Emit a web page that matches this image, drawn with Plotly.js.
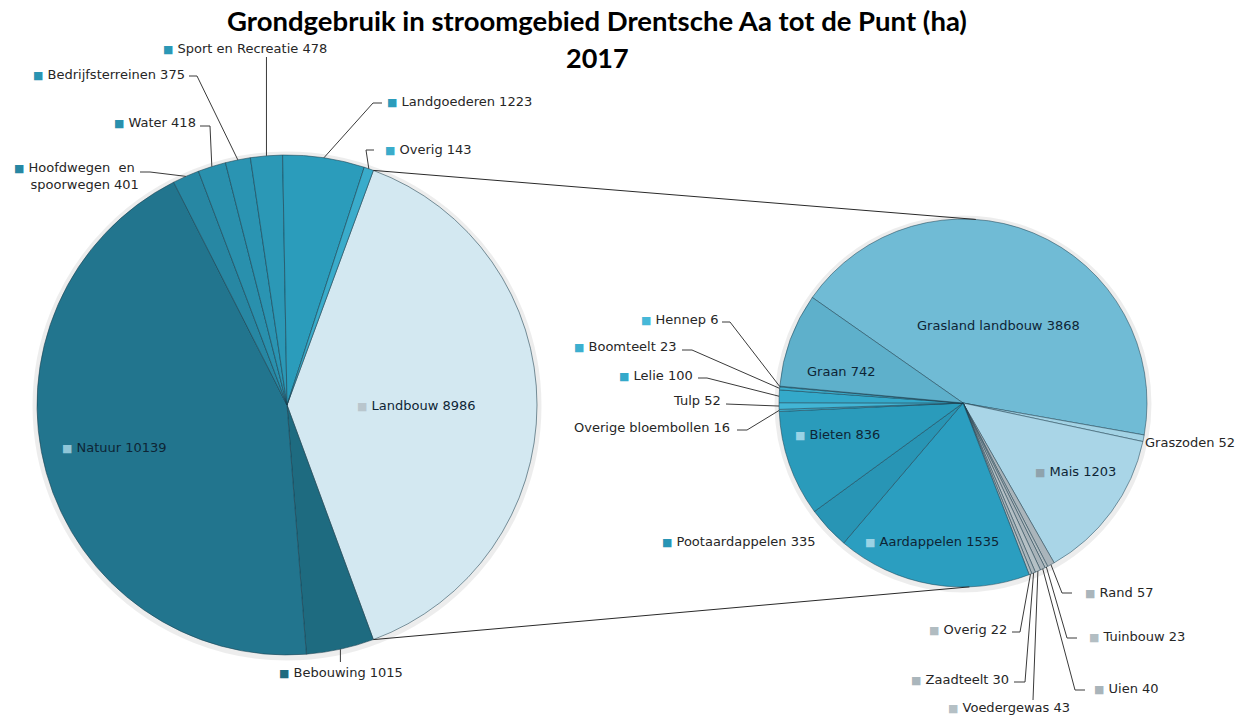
<!DOCTYPE html>
<html><head><meta charset="utf-8">
<script src="https://cdn.plot.ly/plotly-3.0.1.min.js"></script>
<style>html,body{margin:0;padding:0;background:#fff}</style>
</head><body><div id="chart" style="width:1252px;height:715px"></div>
<script>
// ---------- data ----------
const chartTitle = 'Grondgebruik in stroomgebied Drentsche Aa tot de Punt (ha)';
const chartYear = '2017';
const mainCategories = ['Landbouw','Bebouwing','Natuur','Hoofdwegen en spoorwegen','Water','Bedrijfsterreinen','Sport en Recreatie','Landgoederen','Overig'];
const mainValues = [8986,1015,10139,401,418,375,478,1223,143];
const landbouwCategories = ['Grasland landbouw','Graszoden','Mais','Rand','Tuinbouw','Uien','Voedergewas','Zaadteelt','Overig','Aardappelen','Pootaardappelen','Bieten','Overige bloembollen','Tulp','Lelie','Boomteelt','Hennep','Graan'];
const landbouwValues = [3868,52,1203,57,23,40,43,30,22,1535,335,836,16,52,100,23,6,742];

// ---------- style ----------
const W = 1252, H = 715;
const L = {cx:287, cy:405, r:250};
const R = {cx:963, cy:403, r:184};
const mainColors = ['#d3e8f1','#1e6b80','#22758e','#2787a3','#2990ad','#2a94b2','#2b98b6','#2b9cbb','#3aaccb'];
const subColors = ['#70bbd5','#a3d3e5','#a9d5e7','#aab5bb','#b3bec3','#a9b4ba','#b5c0c5','#aab6bc','#b1bcc1','#2b9ec0','#2895b5','#2a9bbb','#3cb0d0','#42b5d5','#34a9ca','#3cafcf','#46b8d8','#5eb0cb'];
const mainLabelPos = [
  {x:355,y:405,key:'#b9c6cd',inside:true},
  {x:277,y:672,key:true,leader:{vertical:true,sy:662}},
  {x:60,y:447,key:'#8fc6d8',inside:true},
  {x:12,y:176,key:true,twoLine:true,leader:{sx:140,sy:172,ex:150}},
  {x:198,y:122,anchor:'right',key:true,leader:{sx:200,sy:126,ex:210}},
  {x:187,y:74,anchor:'right',key:true,leader:{sx:189,sy:76,ex:197}},
  {x:161,y:48,key:true,leader:{vertical:true,sy:57}},
  {x:385,y:101,key:true,leader:{sx:382,sy:103,ex:373}},
  {x:383,y:149,key:true,leader:{sx:374,sy:150,ex:366}}
];
const subLabelPos = [
  {x:915,y:325,inside:true},
  {x:1143,y:443},
  {x:1033,y:471,key:'#8fa3ad',inside:true},
  {x:1083,y:592,key:true,leader:{sx:1072,sy:593,ex:1062}},
  {x:1087,y:636,key:true,leader:{sx:1077,sy:638,ex:1067}},
  {x:1092,y:688,key:true,leader:{sx:1085,sy:690,ex:1075}},
  {x:946,y:707,key:true,leader:{sx:1033,sy:700}},
  {x:1011,y:679,anchor:'right',key:true,leader:{sx:1014,sy:682,ex:1025}},
  {x:1009,y:629,anchor:'right',key:true,leader:{sx:1012,sy:632,ex:1020}},
  {x:863,y:541,key:'#9ad3e5',inside:true},
  {x:660,y:541,key:true},
  {x:793,y:434,key:'#9ad3e5',inside:true},
  {x:732,y:427,anchor:'right',leader:{sx:737,sy:430,ex:747}},
  {x:723,y:400,anchor:'right',leader:{sx:726,sy:404}},
  {x:695,y:375,anchor:'right',key:true,leader:{sx:698,sy:378,ex:707}},
  {x:679,y:347,anchor:'right',key:true,leader:{sx:682,sy:350,ex:692}},
  {x:720,y:319,anchor:'right',key:true,leader:{sx:722,sy:322,ex:730}},
  {x:805,y:371,inside:true}
];

// ---------- helpers ----------
const sum = a => a.reduce((s,v)=>s+v,0);
const px = x => x / W;
const py = y => 1 - y / H;
function edge(p, deg){ const a = deg*Math.PI/180; return [p.cx + p.r*Math.sin(a), p.cy - p.r*Math.cos(a)]; }
function angles(values, rot){ const t = sum(values); let c = rot; return values.map(v => { const s = c; c += v/t*360; return {start:s,end:c,mid:(s+c)/2}; }); }

const mainRot = 90 - 180*mainValues[0]/sum(mainValues);
const subRot = -55;
const mainAng = angles(mainValues, mainRot);
const subAng = angles(landbouwValues, subRot);

const annotations = [];
const shapes = [];
const FONT = 'DejaVu Sans, sans-serif';

function addLabels(cats, vals, colors, pos, ang, pie){
  cats.forEach((c,i) => {
    const p = pos[i];
    const kc = typeof p.key === 'string' ? p.key : colors[i];
    const key = p.key ? '<span style="color:'+kc+';font-size:11px">■</span> ' : '';
    let txt;
    if (p.twoLine) {
      const words = c.split(' ');
      txt = key + words.slice(0,2).join('  ') + '<br>&nbsp;&nbsp;&nbsp;&nbsp;' + words.slice(2).join(' ') + ' ' + vals[i];
    } else {
      txt = key + c + ' ' + vals[i];
    }
    annotations.push({
      xref:'paper', yref:'paper', x:px(p.x), y:py(p.y), text:txt, showarrow:false,
      xanchor: p.anchor || 'left', yanchor:'middle', align:'left',
      font:{family:FONT, size:13, color: p.inside ? '#0e2535' : '#262626'}
    });
    if (p.leader) {
      const e = edge(pie, ang[i].mid);
      const l = p.leader;
      let path;
      if (l.vertical) path = 'M'+px(e[0])+','+py(l.sy)+' L'+px(e[0])+','+py(e[1]);
      else if (l.ex === undefined) path = 'M'+px(l.sx)+','+py(l.sy)+' L'+px(e[0])+','+py(e[1]);
      else path = 'M'+px(l.sx)+','+py(l.sy)+' L'+px(l.ex)+','+py(l.sy)+' L'+px(e[0])+','+py(e[1]);
      shapes.push({type:'path', xref:'paper', yref:'paper', path:path, line:{color:'#3a3a3a', width:1}, layer:'above'});
    }
  });
}
addLabels(mainCategories, mainValues, mainColors, mainLabelPos, mainAng, L);
addLabels(landbouwCategories, landbouwValues, subColors, subLabelPos, subAng, R);

// connector lines between pies (ends of the Landbouw slice to second pie)
const a0 = edge(L, mainAng[0].start), a1 = edge(L, mainAng[0].end);
const b0 = edge(R, 4), b1 = edge(R, 178);
[[a0,b0],[a1,b1]].forEach(([p,q]) => shapes.push({type:'line', xref:'paper', yref:'paper', x0:px(p[0]), y0:py(p[1]), x1:px(q[0]), y1:py(q[1]), line:{color:'#2a2a2a', width:1}, layer:'above'}));

// soft shadows behind pies
[L,R].forEach(p => shapes.push({type:'circle', xref:'paper', yref:'paper', x0:px(p.cx-p.r-2), x1:px(p.cx+p.r+2), y0:py(p.cy+p.r+3), y1:py(p.cy-p.r-1), line:{color:'rgba(0,0,0,0.07)', width:5}, fillcolor:'rgba(0,0,0,0)', layer:'below'}));

annotations.push({xref:'paper', yref:'paper', x:px(597), y:py(58), text:'<b>'+chartYear+'</b>', showarrow:false, xanchor:'center', yanchor:'middle', font:{family:'Lato, sans-serif', size:27, color:'#000'}});

const traces = [
  {type:'pie', labels:mainCategories, values:mainValues, sort:false, direction:'clockwise', rotation:mainRot,
   marker:{colors:mainColors, line:{color:'rgba(25,60,75,0.55)', width:1}}, textinfo:'none', hoverinfo:'label+value',
   domain:{x:[px(L.cx-L.r), px(L.cx+L.r)], y:[py(L.cy+L.r), py(L.cy-L.r)]}, showlegend:false},
  {type:'pie', labels:landbouwCategories, values:landbouwValues, sort:false, direction:'clockwise', rotation:subRot,
   marker:{colors:subColors, line:{color:'rgba(25,60,75,0.5)', width:1}}, textinfo:'none', hoverinfo:'label+value',
   domain:{x:[px(R.cx-R.r), px(R.cx+R.r)], y:[py(R.cy+R.r), py(R.cy-R.r)]}, showlegend:false}
];

const layout = {
  width:W, height:H, margin:{l:0,r:0,t:0,b:0}, paper_bgcolor:'#fff', showlegend:false,
  title:{text:'<b>'+chartTitle+'</b>', x:px(597), xanchor:'center', xref:'paper', y:py(21), yref:'paper', yanchor:'middle', font:{family:'Lato, sans-serif', size:27.5, color:'#000'}},
  annotations:annotations, shapes:shapes
};
Plotly.newPlot('chart', traces, layout, {displayModeBar:false, staticPlot:true});
</script></body></html>
